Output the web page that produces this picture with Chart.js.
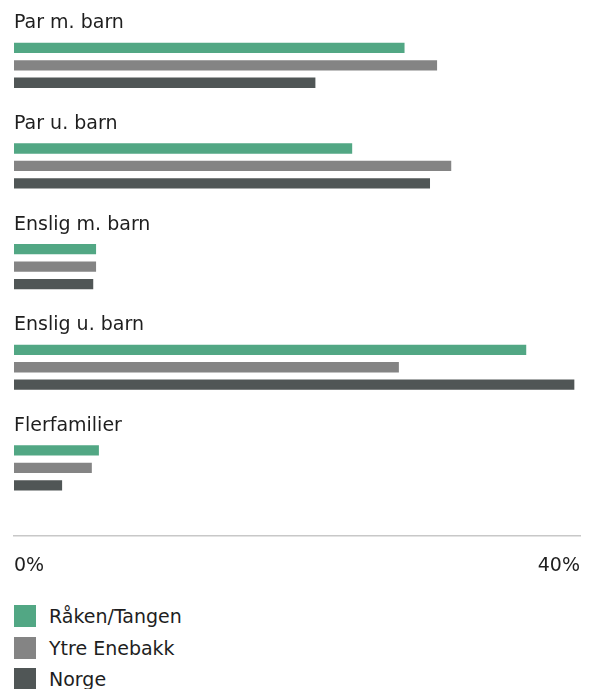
<!DOCTYPE html>
<html>
<head>
<meta charset="utf-8">
<script src="https://cdn.jsdelivr.net/npm/chart.js@4.4.1/dist/chart.umd.min.js"></script>
<style>
  body { margin: 0; background: #fff; font-family: "DejaVu Sans", sans-serif; }
  #wrap { position: relative; width: 590px; height: 600px; }
  #legend { list-style: none; margin: 0; padding: 0; position: absolute; left: 14px; top: 605px; }
  #legend li { display: flex; align-items: center; height: 22px; margin-bottom: 9.7px; font-size: 19px; color: #1e1e1e; }
  #legend span { display: inline-block; width: 22px; height: 22px; margin-right: 13px; }
</style>
</head>
<body>
<div id="wrap"><canvas id="chart" width="590" height="600"></canvas></div>
<ul id="legend"></ul>
<script>
const categories = ['Par m. barn', 'Par u. barn', 'Enslig m. barn', 'Enslig u. barn', 'Flerfamilier'];
const seriesNames = ['Råken/Tangen', 'Ytre Enebakk', 'Norge'];
const rakenTangen = [27.6, 23.9, 5.8, 36.2, 6.0];
const ytreEnebakk = [29.9, 30.9, 5.8, 27.2, 5.5];
const norge = [21.3, 29.4, 5.6, 39.6, 3.4];
const xTicks = [0, 40];
const colors = ['#52a784', '#848484', '#505656'];

const textColor = '#1e1e1e';
const font = { family: '"DejaVu Sans", sans-serif', size: 19 };

// legend as html list so the items stack vertically
const htmlLegend = {
    id: 'htmlLegend',
    afterUpdate(chart) {
        const ul = document.getElementById('legend');
        ul.innerHTML = '';
        chart.options.plugins.legend.labels.generateLabels(chart).forEach(item => {
            const li = document.createElement('li');
            const box = document.createElement('span');
            box.style.background = item.fillStyle;
            li.appendChild(box);
            li.appendChild(document.createTextNode(item.text));
            ul.appendChild(li);
        });
    }
};

new Chart(document.getElementById('chart'), {
    type: 'bar',
    data: {
        labels: categories,
        datasets: [rakenTangen, ytreEnebakk, norge].map((values, i) => ({
            label: seriesNames[i],
            data: values,
            backgroundColor: colors[i],
            borderWidth: 0,
            categoryPercentage: 0.52,
            barPercentage: 0.59
        }))
    },
    options: {
        indexAxis: 'y',
        responsive: false,
        animation: false,
        layout: { padding: { left: 14, right: 10, top: 15, bottom: 21 } },
        plugins: {
            legend: { display: false },
            tooltip: { enabled: true }
        },
        scales: {
            y: {
                type: 'category',
                grid: { display: false, drawTicks: false },
                border: { display: false },
                ticks: {
                    mirror: true,
                    padding: 0,
                    labelOffset: -42,
                    color: textColor,
                    font: font
                }
            },
            // empty band between the last group and the axis line
            gap: {
                type: 'linear',
                axis: 'x',
                position: 'bottom',
                weight: 0,
                ticks: { display: false },
                grid: { display: false, drawTicks: false },
                border: { display: false },
                afterFit: s => { s.height = 18; }
            },
            x: {
                position: 'bottom',
                weight: 1,
                min: 0,
                max: 40,
                grid: { display: true, drawOnChartArea: false, drawTicks: true, tickLength: 16, color: 'rgba(0,0,0,0)' },
                border: { display: true, color: '#c8c8c8', width: 1.5 },
                afterBuildTicks: s => { s.ticks = xTicks.map(v => ({ value: v })); },
                ticks: {
                    align: 'inner',
                    padding: 2,
                    color: textColor,
                    font: font,
                    callback: v => v + '%'
                }
            }
        }
    },
    plugins: [htmlLegend]
});
</script>
</body>
</html>
